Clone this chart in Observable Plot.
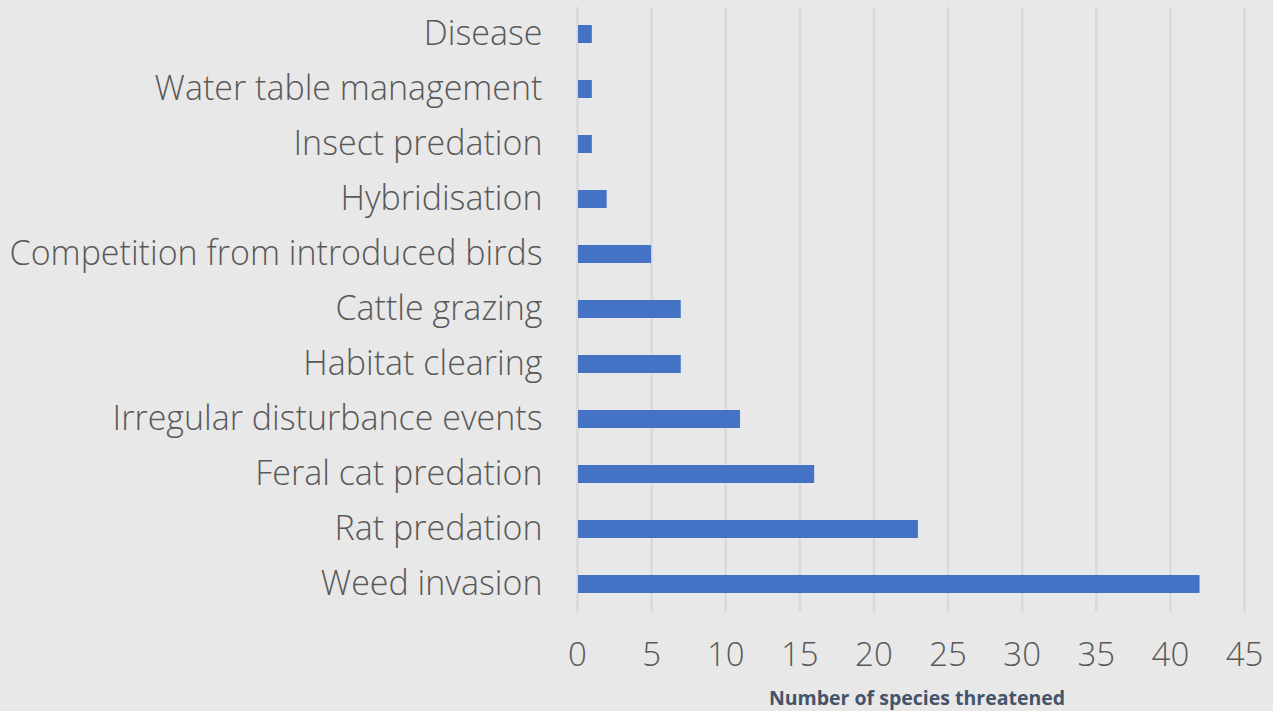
<!DOCTYPE html>
<html>
<head>
<meta charset="utf-8">
<script src="https://cdn.jsdelivr.net/npm/d3@7"></script>
<script src="https://cdn.jsdelivr.net/npm/@observablehq/plot@0.6"></script>
<style>
  html, body { margin: 0; padding: 0; background: #e8e8e8; }
  #chart svg { display: block; }
</style>
</head>
<body>
<div id="chart"></div>
<script>
const threats = [
  "Disease",
  "Water table management",
  "Insect predation",
  "Hybridisation",
  "Competition from introduced birds",
  "Cattle grazing",
  "Habitat clearing",
  "Irregular disturbance events",
  "Feral cat predation",
  "Rat predation",
  "Weed invasion"
];
const speciesCounts = [1, 1, 1, 2, 5, 7, 7, 11, 16, 23, 42];
const xTicks = [0, 5, 10, 15, 20, 25, 30, 35, 40, 45];
const xTitle = "Number of species threatened";

const data = threats.map((t, i) => ({threat: t, count: speciesCounts[i]}));

const chart = Plot.plot({
  width: 1273,
  height: 711,
  marginLeft: 577,
  marginRight: 29,
  marginTop: 7,
  marginBottom: 99,
  style: {background: "#e8e8e8", fontFamily: "'Open Sans', sans-serif", fontWeight: 300, color: "#595959"},
  x: {domain: [0, 45], ticks: xTicks},
  y: {domain: threats, paddingInner: 0.67, paddingOuter: 0.335},
  marks: [
    Plot.gridX(xTicks, {stroke: "#d9d9d9", strokeOpacity: 1, strokeWidth: 2.5}),
    Plot.axisX(xTicks, {tickSize: 0, tickPadding: 30, fontSize: 33, label: null, fill: "#595959"}),
    Plot.axisY({tickSize: 0, tickPadding: 35, fontSize: 34, label: null, fill: "#595959"}),
    Plot.barX(data, {x: "count", y: "threat", fill: "#4472c4", insetLeft: 1}),
    Plot.text([xTitle], {frameAnchor: "bottom", dy: 92, fontSize: 19.5, fontWeight: "bold", fill: "#44546a", dx: 6})
  ]
});
document.getElementById("chart").appendChild(chart);
</script>
</body>
</html>
